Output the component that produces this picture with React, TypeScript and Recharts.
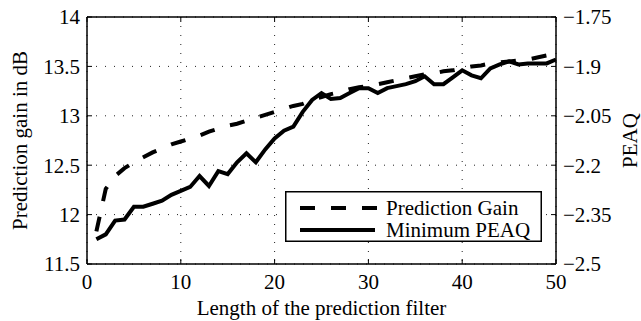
import React from 'react';
import { LineChart, Line, XAxis, YAxis, CartesianGrid, ReferenceLine, Legend } from 'recharts';

const filterLengths = [
  1, 2, 3, 4, 5, 6, 7, 8, 9, 10,
  11, 12, 13, 14, 15, 16, 17, 18, 19, 20,
  21, 22, 23, 24, 25, 26, 27, 28, 29, 30,
  31, 32, 33, 34, 35, 36, 37, 38, 39, 40,
  41, 42, 43, 44, 45, 46, 47, 48, 49, 50,
];

// Prediction gain in dB (left axis)
const predictionGain = [
  11.83, 12.26, 12.39, 12.47, 12.53, 12.58, 12.63, 12.67, 12.71, 12.74,
  12.77, 12.80, 12.84, 12.87, 12.90, 12.92, 12.95, 12.98, 13.01, 13.04,
  13.07, 13.10, 13.12, 13.16, 13.19, 13.22, 13.24, 13.27, 13.29, 13.30,
  13.32, 13.34, 13.36, 13.38, 13.40, 13.42, 13.43, 13.45, 13.46, 13.48,
  13.50, 13.51, 13.53, 13.54, 13.55, 13.56, 13.57, 13.59, 13.61, 13.62,
];

// Minimum PEAQ (right axis)
const minimumPeaq = [
  -2.425, -2.41, -2.368, -2.365, -2.326, -2.326, -2.317, -2.308, -2.29, -2.278,
  -2.266, -2.233, -2.263, -2.218, -2.227, -2.191, -2.164, -2.191, -2.152, -2.119,
  -2.095, -2.083, -2.038, -2.002, -1.981, -1.999, -1.996, -1.981, -1.966, -1.966,
  -1.981, -1.966, -1.96, -1.954, -1.945, -1.93, -1.954, -1.954, -1.933, -1.912,
  -1.927, -1.936, -1.906, -1.894, -1.885, -1.894, -1.891, -1.891, -1.891, -1.879,
];

const xTicks = [0, 10, 20, 30, 40, 50];
const leftTicks = [11.5, 12, 12.5, 13, 13.5, 14];
const rightTicks = [-2.5, -2.35, -2.2, -2.05, -1.9, -1.75];

const seriesNames = ['Prediction Gain', 'Minimum PEAQ'];
const xTitle = 'Length of the prediction filter';
const leftTitle = 'Prediction gain in dB';
const rightTitle = 'PEAQ';

const data = filterLengths.map((n, i) => ({
  n,
  gain: predictionGain[i],
  peaq: minimumPeaq[i],
}));

const W = 641;
const H = 321;
const MARGIN = { top: 17, right: 0, bottom: 0, left: 0 };
const X_AXIS_H = 57;
const LEFT_W = 87;
const RIGHT_W = 85;
const PLOT_H = H - MARGIN.top - MARGIN.bottom - X_AXIS_H;
const PLOT_W = W - LEFT_W - RIGHT_W;
const TICK_LEN = 5;
const X_TICK_MARGIN = 10;
const Y_TICK_MARGIN = 7;
const FONT = 'Liberation Serif';
const FS = 21;
const TS = { fontFamily: FONT, fontSize: FS };
const DASH = '15 16';
const LW = 4;

const fmtRight = (v: number) => (v < 0 ? '\u2212' + String(Math.abs(v)) : String(v));

const XTick = (props: any) => {
  const { x, y, payload } = props;
  const axisY = y - X_TICK_MARGIN;
  const topY = axisY - PLOT_H;
  return (
    <g>
      <line x1={x} y1={axisY} x2={x} y2={axisY - TICK_LEN} stroke="#000" strokeWidth={1} />
      <line x1={x} y1={topY} x2={x} y2={topY + TICK_LEN} stroke="#000" strokeWidth={1} />
      <text x={x} y={y} dy="0.71em" textAnchor="middle" style={TS} fill="#000">
        {payload.value}
      </text>
    </g>
  );
};

const LeftTick = (props: any) => {
  const { x, y, payload } = props;
  const ax = x + Y_TICK_MARGIN;
  return (
    <g>
      <line x1={ax} y1={y} x2={ax + TICK_LEN} y2={y} stroke="#000" strokeWidth={1} />
      <text x={x} y={y} dy="0.35em" textAnchor="end" style={TS} fill="#000">
        {payload.value}
      </text>
    </g>
  );
};

const RightTick = (props: any) => {
  const { x, y, payload } = props;
  const ax = x - Y_TICK_MARGIN;
  return (
    <g>
      <line x1={ax} y1={y} x2={ax - TICK_LEN} y2={y} stroke="#000" strokeWidth={1} />
      <text x={x} y={y} dy="0.35em" textAnchor="start" style={TS} fill="#000">
        {fmtRight(payload.value)}
      </text>
    </g>
  );
};

const VerticalTitle = (offsetX: number) => (props: any) => {
  const vb = props.viewBox || {};
  const cx = (vb.x ?? 0) + offsetX;
  const cy = (vb.y ?? MARGIN.top) + (vb.height ?? PLOT_H) / 2;
  return (
    <text
      x={cx}
      y={cy}
      transform={`rotate(-90 ${cx} ${cy})`}
      textAnchor="middle"
      style={TS}
      fill="#000"
    >
      {props.value}
    </text>
  );
};

const BottomTitle = (props: any) => {
  const vb = props.viewBox || {};
  const cx = (vb.x ?? LEFT_W) + (vb.width ?? PLOT_W) / 2;
  const cy = (vb.y ?? H - X_AXIS_H) + (vb.height ?? X_AXIS_H) - 6;
  return (
    <text x={cx} y={cy} textAnchor="middle" style={TS} fill="#000">
      {props.value}
    </text>
  );
};

const LegendBox = () => {
  const w = 257;
  const h = 51;
  return (
    <svg width={w} height={h} style={{ display: 'block' }}>
      <rect x={0.75} y={0.75} width={w - 1.5} height={h - 1.5} fill="#fff" stroke="#000" strokeWidth={1.5} />
      <line x1={15} y1={17} x2={93} y2={17} stroke="#000" strokeWidth={LW} strokeDasharray={DASH} />
      <text x={101} y={23.5} style={TS} fill="#000">{seriesNames[0]}</text>
      <line x1={15} y1={39} x2={90} y2={39} stroke="#000" strokeWidth={LW} />
      <text x={101} y={46} style={TS} fill="#000">{seriesNames[1]}</text>
    </svg>
  );
};

export default function App() {
  return (
    <div style={{ position: 'absolute', left: 0, top: 0, background: '#fff', fontFamily: FONT }}>
      <LineChart width={W} height={H} data={data} margin={MARGIN} style={{ fontFamily: FONT }}>
        <CartesianGrid yAxisId="left" stroke="#222" strokeWidth={1} strokeDasharray="1 8" />
        <XAxis
          dataKey="n"
          type="number"
          domain={[0, 50]}
          ticks={xTicks}
          interval={0}
          height={X_AXIS_H}
          tickSize={0}
          tickMargin={X_TICK_MARGIN}
          tickLine={false}
          tick={<XTick />}
          axisLine={{ stroke: '#000', strokeWidth: 1.5 }}
          label={{ value: xTitle, content: BottomTitle }}
        />
        <YAxis
          yAxisId="left"
          orientation="left"
          type="number"
          domain={[11.5, 14]}
          ticks={leftTicks}
          interval={0}
          width={LEFT_W}
          tickSize={0}
          tickMargin={Y_TICK_MARGIN}
          tickLine={false}
          tick={<LeftTick />}
          axisLine={{ stroke: '#000', strokeWidth: 1.5 }}
          label={{ value: leftTitle, content: VerticalTitle(27) }}
        />
        <YAxis
          yAxisId="right"
          orientation="right"
          type="number"
          domain={[-2.5, -1.75]}
          ticks={rightTicks}
          interval={0}
          width={RIGHT_W}
          tickSize={0}
          tickMargin={Y_TICK_MARGIN}
          tickLine={false}
          tick={<RightTick />}
          axisLine={{ stroke: '#000', strokeWidth: 1.5 }}
          label={{ value: rightTitle, content: VerticalTitle(81) }}
        />
        <ReferenceLine yAxisId="left" y={14} stroke="#000" strokeWidth={1.5} />
        <Line
          yAxisId="left"
          type="linear"
          dataKey="gain"
          name={seriesNames[0]}
          stroke="#000"
          strokeWidth={LW}
          strokeDasharray={DASH}
          dot={false}
          activeDot={false}
          isAnimationActive={false}
        />
        <Line
          yAxisId="right"
          type="linear"
          dataKey="peaq"
          name={seriesNames[1]}
          stroke="#000"
          strokeWidth={LW}
          dot={false}
          activeDot={false}
          isAnimationActive={false}
        />
        <Legend
          layout="horizontal"
          verticalAlign="middle"
          align="center"
          content={<LegendBox />}
          wrapperStyle={{ position: 'absolute', left: 285, top: 191, width: 257, height: 51 }}
        />
      </LineChart>
    </div>
  );
}
